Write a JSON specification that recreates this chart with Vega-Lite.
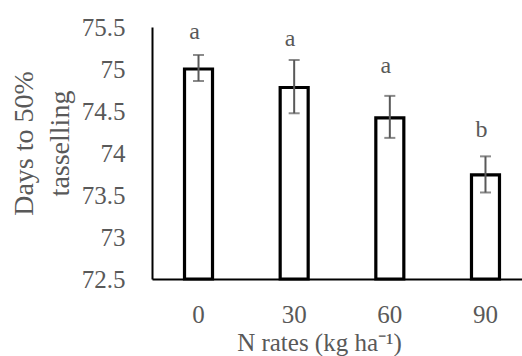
{
  "$schema": "https://vega.github.io/schema/vega-lite/v6.json",
  "width": 370,
  "height": 252,
  "autosize": {"type": "none"},
  "padding": {"left": 152, "top": 27, "right": 0, "bottom": 77},
  "background": "white",
  "config": {
    "view": {"stroke": null},
    "font": "Liberation Serif",
    "axis": {"labelFont": "Liberation Serif", "titleFont": "Liberation Serif"},
    "text": {"font": "Liberation Serif"}
  },
  "data": {
    "values": [
      {"N": "0", "mean": 75.0, "lo": 74.857, "hi": 75.167, "letter": "a", "labelPos": 75.354},
      {"N": "30", "mean": 74.78, "lo": 74.473, "hi": 75.107, "letter": "a", "labelPos": 75.278},
      {"N": "60", "mean": 74.417, "lo": 74.18, "hi": 74.68, "letter": "a", "labelPos": 74.956},
      {"N": "90", "mean": 73.74, "lo": 73.53, "hi": 73.96, "letter": "b", "labelPos": 74.187}
    ]
  },
  "encoding": {
    "x": {
      "field": "N",
      "type": "ordinal",
      "sort": ["0", "30", "60", "90"],
      "scale": {"paddingInner": 0.5, "paddingOuter": 0.184, "align": 0.642},
      "axis": {
        "title": "N rates (kg ha⁻¹)",
        "labelAngle": 0,
        "ticks": false,
        "domainColor": "black",
        "domainWidth": 2,
        "labelFont": "Liberation Serif",
        "labelFontSize": 25,
        "labelColor": "#595959",
        "labelPadding": 23,
        "titleFont": "Liberation Serif",
        "titleFontSize": 25,
        "titleFontWeight": "normal",
        "titleColor": "#595959",
        "titleX": 167,
        "titleY": 71,
        "titleBaseline": "alphabetic",
        "titleAlign": "center"
      }
    }
  },
  "layer": [
    {
      "mark": {"type": "bar", "fill": "white", "stroke": "black", "strokeWidth": 3.2, "width": 28},
      "encoding": {
        "y": {
          "field": "mean",
          "type": "quantitative",
          "scale": {"domain": [72.5, 75.5], "nice": false, "zero": false},
          "axis": {
            "values": [72.5, 73, 73.5, 74, 74.5, 75, 75.5],
            "format": ".1~f",
            "grid": false,
            "ticks": false,
            "domainColor": "black",
            "domainWidth": 2,
            "labelPadding": 27,
            "labelFont": "Liberation Serif",
            "labelFontSize": 25,
            "labelColor": "#595959",
            "title": ["Days to 50%", "tasselling"],
            "titleFont": "Liberation Serif",
            "titleFontSize": 28,
            "titleFontWeight": "normal",
            "titleColor": "#595959",
            "titleAngle": -90,
            "titleX": -142,
            "titleY": 116,
            "titleAlign": "center",
            "titleBaseline": "top",
            "titleLineHeight": 36
          }
        },
        "y2": {"datum": 72.5}
      }
    },
    {
      "mark": {"type": "rule", "color": "#595959", "strokeWidth": 2},
      "encoding": {
        "y": {"field": "lo", "type": "quantitative"},
        "y2": {"field": "hi"}
      }
    },
    {
      "mark": {"type": "tick", "color": "#595959", "size": 11, "thickness": 2, "orient": "horizontal"},
      "encoding": {"y": {"field": "lo", "type": "quantitative"}}
    },
    {
      "mark": {"type": "tick", "color": "#595959", "size": 11, "thickness": 2, "orient": "horizontal"},
      "encoding": {"y": {"field": "hi", "type": "quantitative"}}
    },
    {
      "mark": {"type": "text", "baseline": "alphabetic", "font": "Liberation Serif", "fontSize": 24, "dx": -4, "color": "#595959"},
      "encoding": {
        "y": {"field": "labelPos", "type": "quantitative"},
        "text": {"field": "letter"}
      }
    }
  ]
}
